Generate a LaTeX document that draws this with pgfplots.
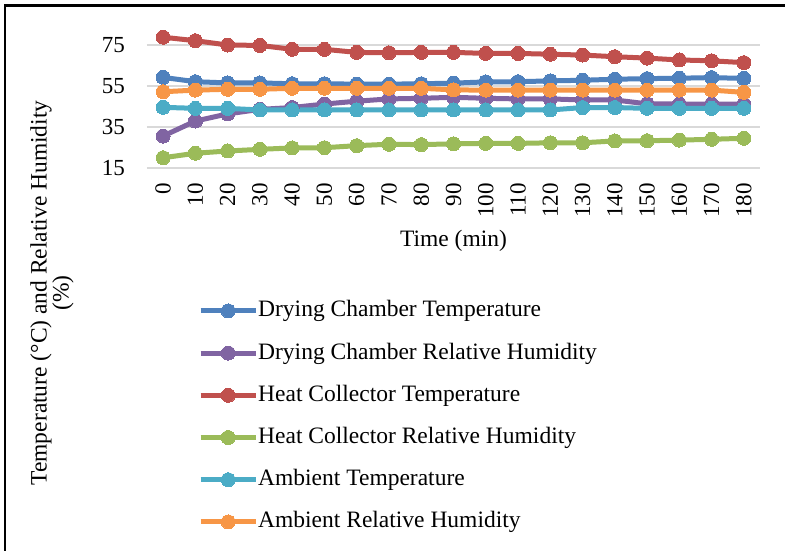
\documentclass[border=0pt]{standalone}
\usepackage{fontspec}
\setmainfont{Liberation Serif}
\usepackage{pgfplots}
\usepackage{pgfplotstable}
\pgfplotsset{compat=1.18}
\definecolor{cBlue}{HTML}{4F81BD}
\definecolor{cRed}{HTML}{C0504D}
\definecolor{cGreen}{HTML}{9BBB59}
\definecolor{cPurple}{HTML}{8064A2}
\definecolor{cAqua}{HTML}{4BACC6}
\definecolor{cOrange}{HTML}{F79646}
\definecolor{cGrid}{HTML}{D9D9D9}
\pgfplotstableread{
t   dct  dcrh hct  hcrh at   arh
0   59.2 30.6 78.8 20.0 44.6 52.2
10  57.1 37.9 77.1 22.2 44.1 53.0
20  56.5 41.4 75.0 23.3 44.1 53.4
30  56.5 43.6 74.8 24.1 43.3 53.4
40  56.1 44.5 72.9 24.8 43.3 53.9
50  56.1 46.2 72.9 24.9 43.3 53.9
60  55.9 47.6 71.4 25.9 43.3 53.9
70  55.9 48.7 71.2 26.6 43.3 53.9
80  56.1 49.0 71.4 26.4 43.3 53.9
90  56.4 49.5 71.4 26.8 43.3 53.1
100 57.0 49.0 70.9 27.0 43.3 53.0
110 57.1 48.7 70.9 27.0 43.3 53.0
120 57.5 48.7 70.5 27.3 43.3 53.0
130 57.8 48.2 70.1 27.3 44.5 53.0
140 58.3 48.2 69.3 28.2 44.5 53.0
150 58.6 46.3 68.6 28.3 44.1 53.0
160 58.8 46.2 67.7 28.6 44.1 53.0
170 59.1 46.2 67.3 29.0 44.1 53.0
180 58.7 46.2 66.4 29.5 44.1 51.9
}\data
\begin{document}
\begin{tikzpicture}[x=1pt,y=1pt]
\useasboundingbox (0,0) rectangle (785,-551);
\fill[white] (0,0) rectangle (785,-551);
\begin{axis}[
  at={(147pt,-168pt)}, anchor=south west,
  scale only axis, width=613pt, height=143.5pt,
  xmin=-5, xmax=185, ymin=15, ymax=85,
  xtick={0,10,...,180}, ytick={15,35,55,75},
  ymajorgrids, grid style={draw=cGrid, line width=1.5pt},
  axis line style={draw=none}, major tick length=0pt,
  /pgf/number format/assume math mode=true,
  tick label style={font=\fontsize{23}{27}\selectfont},
  xticklabel style={rotate=90, anchor=east, inner sep=0pt},
  xticklabel shift=15pt,
  yticklabel style={inner sep=0pt},
  yticklabel shift=22pt,
  xlabel={Time (min)},
  xlabel style={at={(axis description cs:0.5,-0.547)}, anchor=base, font=\fontsize{23.5}{27}\selectfont},
  ylabel={Temperature (°C) and Relative Humidity\\(\%)},
  ylabel style={at={(axis description cs:-0.155,-0.871)}, anchor=center, align=center, font=\fontsize{23.5}{22}\selectfont},
  legend style={at={(axis description cs:0.0832,-0.918)}, anchor=north west, draw=none, fill=none, inner sep=0pt, row sep=20.2pt, font=\fontsize{23.5}{27}\selectfont, nodes={inner sep=0pt, text height=17pt, text depth=5pt}},
  legend cell align=left,
  legend image code/.code={\draw[mark repeat=2,mark phase=2,#1] plot coordinates {(0pt,0pt) (27.5pt,0pt) (55pt,0pt)};},
  every axis plot/.append style={line width=5pt, mark=*, mark size=7pt},
]
\addplot[cBlue, mark options={fill=cBlue, draw=cBlue, line width=0pt}] table[x=t,y=dct] {\data};
\addlegendentry{Drying Chamber Temperature}
\addplot[cPurple, mark options={fill=cPurple, draw=cPurple, line width=0pt}] table[x=t,y=dcrh] {\data};
\addlegendentry{Drying Chamber Relative Humidity}
\addplot[cRed, mark options={fill=cRed, draw=cRed, line width=0pt}] table[x=t,y=hct] {\data};
\addlegendentry{Heat Collector Temperature}
\addplot[cGreen, mark options={fill=cGreen, draw=cGreen, line width=0pt}] table[x=t,y=hcrh] {\data};
\addlegendentry{Heat Collector Relative Humidity}
\addplot[cAqua, mark options={fill=cAqua, draw=cAqua, line width=0pt}] table[x=t,y=at] {\data};
\addlegendentry{Ambient Temperature}
\addplot[cOrange, mark options={fill=cOrange, draw=cOrange, line width=0pt}] table[x=t,y=arh] {\data};
\addlegendentry{Ambient Relative Humidity}
\end{axis}
\draw[line width=2.5pt] (5,-551) -- (5,-5.5) -- (785,-5.5);
\end{tikzpicture}
\end{document}
